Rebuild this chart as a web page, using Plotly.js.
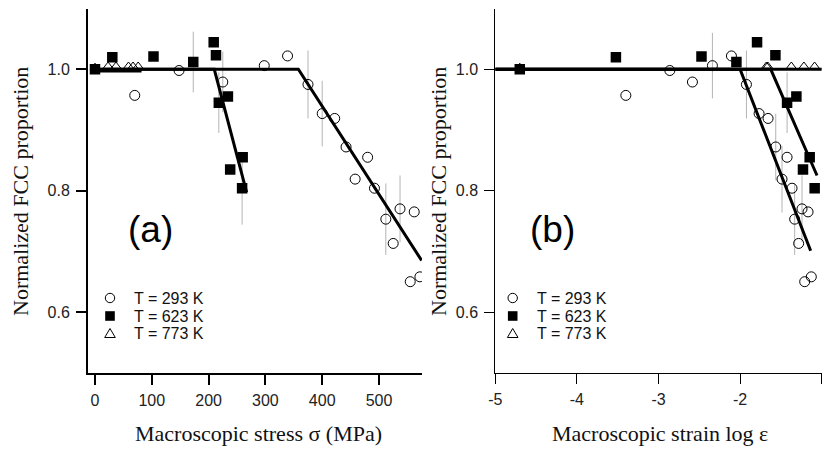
<!DOCTYPE html>
<html>
<head>
<meta charset="utf-8">
<script src="https://cdn.plot.ly/plotly-3.0.1.min.js"></script>
<style>html,body{margin:0;padding:0;background:#fff;}#chart{width:824px;height:450px;}</style>
</head>
<body>
<div id="chart"></div>
<script>
// ---- data ----
// T = 293 K (open circles)
const c293_stress = [70, 148, 225, 298, 339, 375, 400, 422, 442, 480, 458, 492, 512, 537, 525, 562, 555, 572];
const c293_strain = [-3.40, -2.861, -2.584, -2.339, -2.106, -1.922, -1.767, -1.657, -1.563, -1.424, -1.486, -1.363, -1.331, -1.241, -1.282, -1.167, -1.208, -1.127];
const c293_fcc    = [0.957, 0.998, 0.979, 1.006, 1.022, 0.975, 0.927, 0.919, 0.872, 0.855, 0.819, 0.804, 0.753, 0.770, 0.713, 0.765, 0.650, 0.658];
const c293_errA   = [0, 0, 0.05, 0, 0, 0.056, 0.054, 0, 0, 0, 0, 0, 0.059, 0.055, 0, 0, 0, 0];
const c293_errB   = [0, 0, 0, 0.054, 0, 0.056, 0, 0, 0.055, 0, 0.055, 0, 0.059, 0.055, 0, 0, 0, 0];
// T = 623 K (filled squares)
const s623_stress = [0, 30.5, 103, 173, 209, 213, 218, 234, 260, 238, 259];
const s623_strain = [-4.70, -3.522, -2.473, -2.045, -1.792, -1.567, -1.424, -1.31, -1.147, -1.229, -1.086];
const s623_fcc    = [1.000, 1.020, 1.021, 1.012, 1.0445, 1.023, 0.945, 0.955, 0.855, 0.835, 0.804];
const s623_errA   = [0, 0, 0, 0.05, 0, 0, 0.05, 0, 0, 0, 0.06];
const s623_errB   = [0, 0, 0, 0, 0, 0, 0.05, 0, 0, 0, 0];
// T = 773 K (open triangles)
const t773_stress = [0, 23, 37, 59, 67, 76];
const t773_strain = [-4.70, -1.678, -1.66, -1.372, -1.218, -1.087];
const t773_fcc    = [1.003, 1.005, 1.005, 1.005, 1.005, 1.005];
// fitted lines
const fitA293_x = [0, 358, 575], fitA293_y = [1.0, 1.0, 0.685];
const fitA623_x = [0, 210, 267], fitA623_y = [1.0, 1.0, 0.797];
const fitA773_x = [0, 82],       fitA773_y = [0.997, 0.997];
const fitB293_x = [-5, -2.0, -1.135], fitB293_y = [1.0, 1.0, 0.701];
const fitB623_x = [-5, -1.624, -1.057], fitB623_y = [1.0, 1.0, 0.825];
const fitB773_x = [-5, -1],      fitB773_y = [1.0, 1.0];
// tick labels and texts
const xTicksA = [0, 100, 200, 300, 400, 500];
const xTicksB = [-5, -4, -3, -2, -1];
const xTickTextB = ['-5', '-4', '-3', '-2', '-1'];
const yTicks = [0.6, 0.8, 1.0];
const yTickText = ['0.6', '0.8', '1.0'];
const legendLabels = ['T = 293 K', 'T = 623 K', 'T = 773 K'];
const panelLabels = ['(a)', '(b)'];
const xTitles = ['Macroscopic stress \u03c3 (MPa)', 'Macroscopic strain log \u03b5'];
const yTitle = 'Normalized FCC proportion';

// ---- styling helpers ----
const W = 824, H = 450;
const px = v => v / W;
const py = v => 1 - v / H;
const errStyle = arr => ({type: 'data', array: arr, visible: true, width: 0, thickness: 1, color: '#b4b4b4'});
const circ = {symbol: 'circle-open', size: 10, color: '#000', line: {width: 1, color: '#000'}};
const sq = {symbol: 'square', size: 10.5, color: '#000', line: {width: 0}};
const tri = {symbol: 'triangle-up-open', size: 8.5, color: '#000', line: {width: 1, color: '#000'}};
const fitLine = {color: '#000', width: 3};

const traces = [
  {x: c293_stress, y: c293_fcc, mode: 'markers', marker: circ, error_y: errStyle(c293_errA), xaxis: 'x', yaxis: 'y'},
  {x: t773_stress, y: t773_fcc, mode: 'markers', marker: tri, xaxis: 'x', yaxis: 'y'},
  {x: s623_stress, y: s623_fcc, mode: 'markers', marker: sq, error_y: errStyle(s623_errA), xaxis: 'x', yaxis: 'y'},
  {x: fitA293_x, y: fitA293_y, mode: 'lines', line: fitLine, xaxis: 'x', yaxis: 'y'},
  {x: fitA623_x, y: fitA623_y, mode: 'lines', line: fitLine, xaxis: 'x', yaxis: 'y'},
  {x: fitA773_x, y: fitA773_y, mode: 'lines', line: fitLine, xaxis: 'x', yaxis: 'y'},

  {x: c293_strain, y: c293_fcc, mode: 'markers', marker: circ, error_y: errStyle(c293_errB), xaxis: 'x2', yaxis: 'y2'},
  {x: t773_strain, y: t773_fcc, mode: 'markers', marker: tri, xaxis: 'x2', yaxis: 'y2'},
  {x: s623_strain, y: s623_fcc, mode: 'markers', marker: sq, error_y: errStyle(s623_errB), xaxis: 'x2', yaxis: 'y2'},
  {x: fitB293_x, y: fitB293_y, mode: 'lines', line: fitLine, xaxis: 'x2', yaxis: 'y2'},
  {x: fitB623_x, y: fitB623_y, mode: 'lines', line: fitLine, xaxis: 'x2', yaxis: 'y2'},
  {x: fitB773_x, y: fitB773_y, mode: 'lines', line: fitLine, xaxis: 'x2', yaxis: 'y2'}
];
traces.forEach(t => { t.showlegend = false; t.hoverinfo = 'skip'; t.cliponaxis = true; });

const tickFont = {family: 'Liberation Sans, Arial, sans-serif', size: 16, color: '#222'};
const yDomain = [1 - 372.7 / H, 1 - 8.6 / H];
function yAx(anchor, lw) {
  return {domain: yDomain, range: [0.5, 1.1], anchor: anchor, tickmode: 'array', tickvals: yTicks, ticktext: yTickText,
    showgrid: false, zeroline: false, showline: true, linecolor: '#000', linewidth: lw, ticklabelstandoff: 3,
    ticks: 'outside', ticklen: 10, tickwidth: lw, tickcolor: '#000', tickfont: tickFont, automargin: false};
}
function xAx(domain, range, anchor, vals, texts, lw) {
  return {domain: domain, range: range, anchor: anchor, tickmode: 'array', tickvals: vals, ticktext: texts,
    showgrid: false, zeroline: false, showline: true, linecolor: '#000', linewidth: lw, ticklabelstandoff: 2,
    ticks: 'outside', ticklen: 10, tickwidth: lw, tickcolor: '#000', tickfont: tickFont, automargin: false};
}

const annFont = {family: 'Liberation Serif, Times New Roman, serif', size: 22, color: '#111'};
const legFont = {family: 'Liberation Sans, Arial, sans-serif', size: 16, color: '#111'};
const annotations = [
  {text: yTitle, x: px(20), y: py(192), textangle: -90, font: annFont},
  {text: yTitle, x: px(438), y: py(192), textangle: -90, font: annFont},
  {text: xTitles[0], x: px(258), y: py(433), font: annFont},
  {text: xTitles[1], x: px(660), y: py(433), font: annFont},
  {text: panelLabels[0], x: px(150), y: py(230), font: {family: 'Liberation Sans, Arial, sans-serif', size: 37, color: '#000'}},
  {text: panelLabels[1], x: px(552), y: py(230), font: {family: 'Liberation Sans, Arial, sans-serif', size: 37, color: '#000'}}
].map(a => Object.assign({xref: 'paper', yref: 'paper', showarrow: false, xanchor: 'center', yanchor: 'middle'}, a));

const legRows = [298, 316, 333.5];
const shapes = [];
[[110, 132], [512.7, 535]].forEach(([mx, tx]) => {
  legRows.forEach((ry, i) => {
    annotations.push({text: legendLabels[i], x: px(tx), y: py(ry), xref: 'paper', yref: 'paper', showarrow: false,
      xanchor: 'left', yanchor: 'middle', font: legFont});
  });
  const r = 4.7;
  shapes.push({type: 'circle', xref: 'paper', yref: 'paper', x0: px(mx - r), x1: px(mx + r), y0: py(legRows[0] + r), y1: py(legRows[0] - r),
    line: {color: '#000', width: 1}, fillcolor: 'rgba(0,0,0,0)'});
  const s = 4.8;
  shapes.push({type: 'rect', xref: 'paper', yref: 'paper', x0: px(mx - s), x1: px(mx + s), y0: py(legRows[1] + s), y1: py(legRows[1] - s),
    line: {color: '#000', width: 0}, fillcolor: '#000'});
  const ty = legRows[2];
  const p = `M ${px(mx - 5.3)} ${py(ty + 4)} L ${px(mx + 5.3)} ${py(ty + 4)} L ${px(mx)} ${py(ty - 5)} Z`;
  shapes.push({type: 'path', xref: 'paper', yref: 'paper', path: p, line: {color: '#000', width: 1}, fillcolor: 'rgba(0,0,0,0)'});
});

const layout = {
  width: W, height: H, margin: {l: 0, r: 0, t: 0, b: 0},
  paper_bgcolor: '#fff', plot_bgcolor: 'rgba(0,0,0,0)', showlegend: false,
  xaxis: xAx([88 / W, 422 / W], [-12.3, 575.7], 'y', xTicksA, xTicksA.map(String), 2),
  yaxis: yAx('x', 2),
  xaxis2: xAx([495.3 / W, 822 / W], [-5, -0.996], 'y2', xTicksB, xTickTextB, 1),
  yaxis2: yAx('x2', 1),
  annotations: annotations, shapes: shapes
};

Plotly.newPlot('chart', traces, layout, {staticPlot: true, displayModeBar: false});
</script>
</body>
</html>
